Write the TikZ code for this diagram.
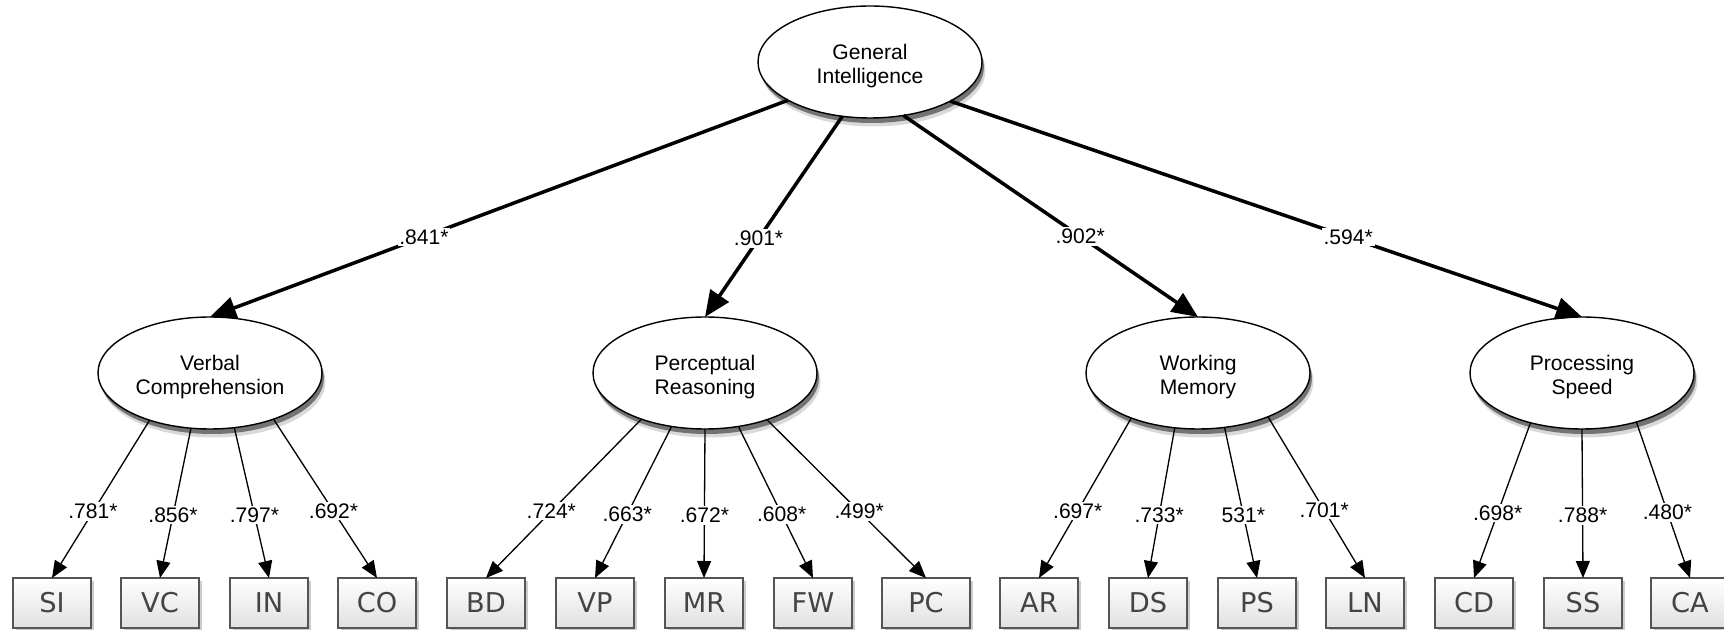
\documentclass[tikz,border=0pt]{standalone}
\usepackage{fontspec}
\setmainfont{Liberation Sans}
\newfontfamily\boxfont{DejaVu Sans}
\usetikzlibrary{positioning, arrows.meta, shapes.geometric, shadows}
\definecolor{boxGray}{HTML}{555555}
\definecolor{boxText}{HTML}{444444}

\begin{document}
\begin{tikzpicture}[
  factor/.style={ellipse, draw, line width=0.8pt, fill=white, minimum width=4.48cm,
    minimum height=2.24cm, inner sep=0pt, outer sep=0pt, align=center,
    font=\fontsize{12}{13.5}\selectfont, text height=27pt, text depth=2.5pt,
    drop shadow={shadow xshift=0.07cm, shadow yshift=-0.17cm, fill=black!15, opacity=1},
    drop shadow={shadow xshift=0.04cm, shadow yshift=-0.1cm, fill=black!55, opacity=1}},
  subtest/.style={rectangle, draw=boxGray, line width=0.7pt, top color=white,
    bottom color=black!12, minimum width=1.56cm, minimum height=1cm, inner sep=0pt,
    outer sep=0pt, text=boxText, font=\boxfont\fontsize{15.5}{18}\selectfont,
    drop shadow={shadow xshift=0.06cm, shadow yshift=-0.06cm, fill=black!20, opacity=1}},
  gpath/.style={line width=2pt, -{Triangle[length=0.52cm, width=0.44cm]}},
  spath/.style={line width=0.75pt, -{Triangle[length=0.34cm, width=0.28cm]}},
  weight/.style={fill=white, inner sep=1pt, font=\fontsize{12}{14}\selectfont},
]
  \useasboundingbox (0,0) rectangle (34.48,12.58);

  \node[factor] (gen) at (17.40,11.34) {General\\Intelligence};
  \node[factor] (verb) at (4.20,5.12) {Verbal\\Comprehension};
  \node[factor] (perc) at (14.10,5.12) {Perceptual\\Reasoning};
  \node[factor] (work) at (23.96,5.12) {Working\\Memory};
  \node[factor] (proc) at (31.64,5.12) {Processing\\Speed};

  \foreach \name/\x/\w in {SI/1.04/1.56, VC/3.20/1.56, IN/5.38/1.56, CO/7.54/1.56,
      BD/9.72/1.56, VP/11.90/1.56, MR/14.08/1.56, FW/16.26/1.56, PC/18.52/1.76,
      AR/20.78/1.56, DS/22.96/1.56, PS/25.14/1.56, LN/27.30/1.56,
      CD/29.48/1.56, SS/31.66/1.56, CA/33.80/1.56}
    \node[subtest, minimum width=\w cm] (\name) at (\x,0.52) {\name};

  \draw[gpath] (gen.205) -- node[weight, pos=0.63] {.841*} (verb.north);
  \draw[gpath] (gen.243) -- node[weight, pos=0.61] {.901*} (perc.north);
  \draw[gpath] (gen.302) -- node[weight, pos=0.6] {.902*} (work.north);
  \draw[gpath] (gen.334) -- node[weight, pos=0.63] {.594*} (proc.north);

  \foreach \from/\a/\to/\val in {verb/218/SI/.781*, verb/251/VC/.856*,
      verb/294/IN/.797*, verb/324/CO/.692*,
      perc/216/BD/.724*, perc/238/VP/.663*, perc/270/MR/.672*,
      perc/302/FW/.608*, perc/323/PC/.499*,
      work/214/AR/.697*, work/247/DS/.733*, work/296/PS/531*, work/328/LN/.701*,
      proc/224/CD/.698*, proc/270/SS/.788*, proc/318/CA/.480*}
    \draw[spath] (\from.\a) -- node[weight, pos=0.58] {\val} (\to.north);
\end{tikzpicture}
\end{document}
